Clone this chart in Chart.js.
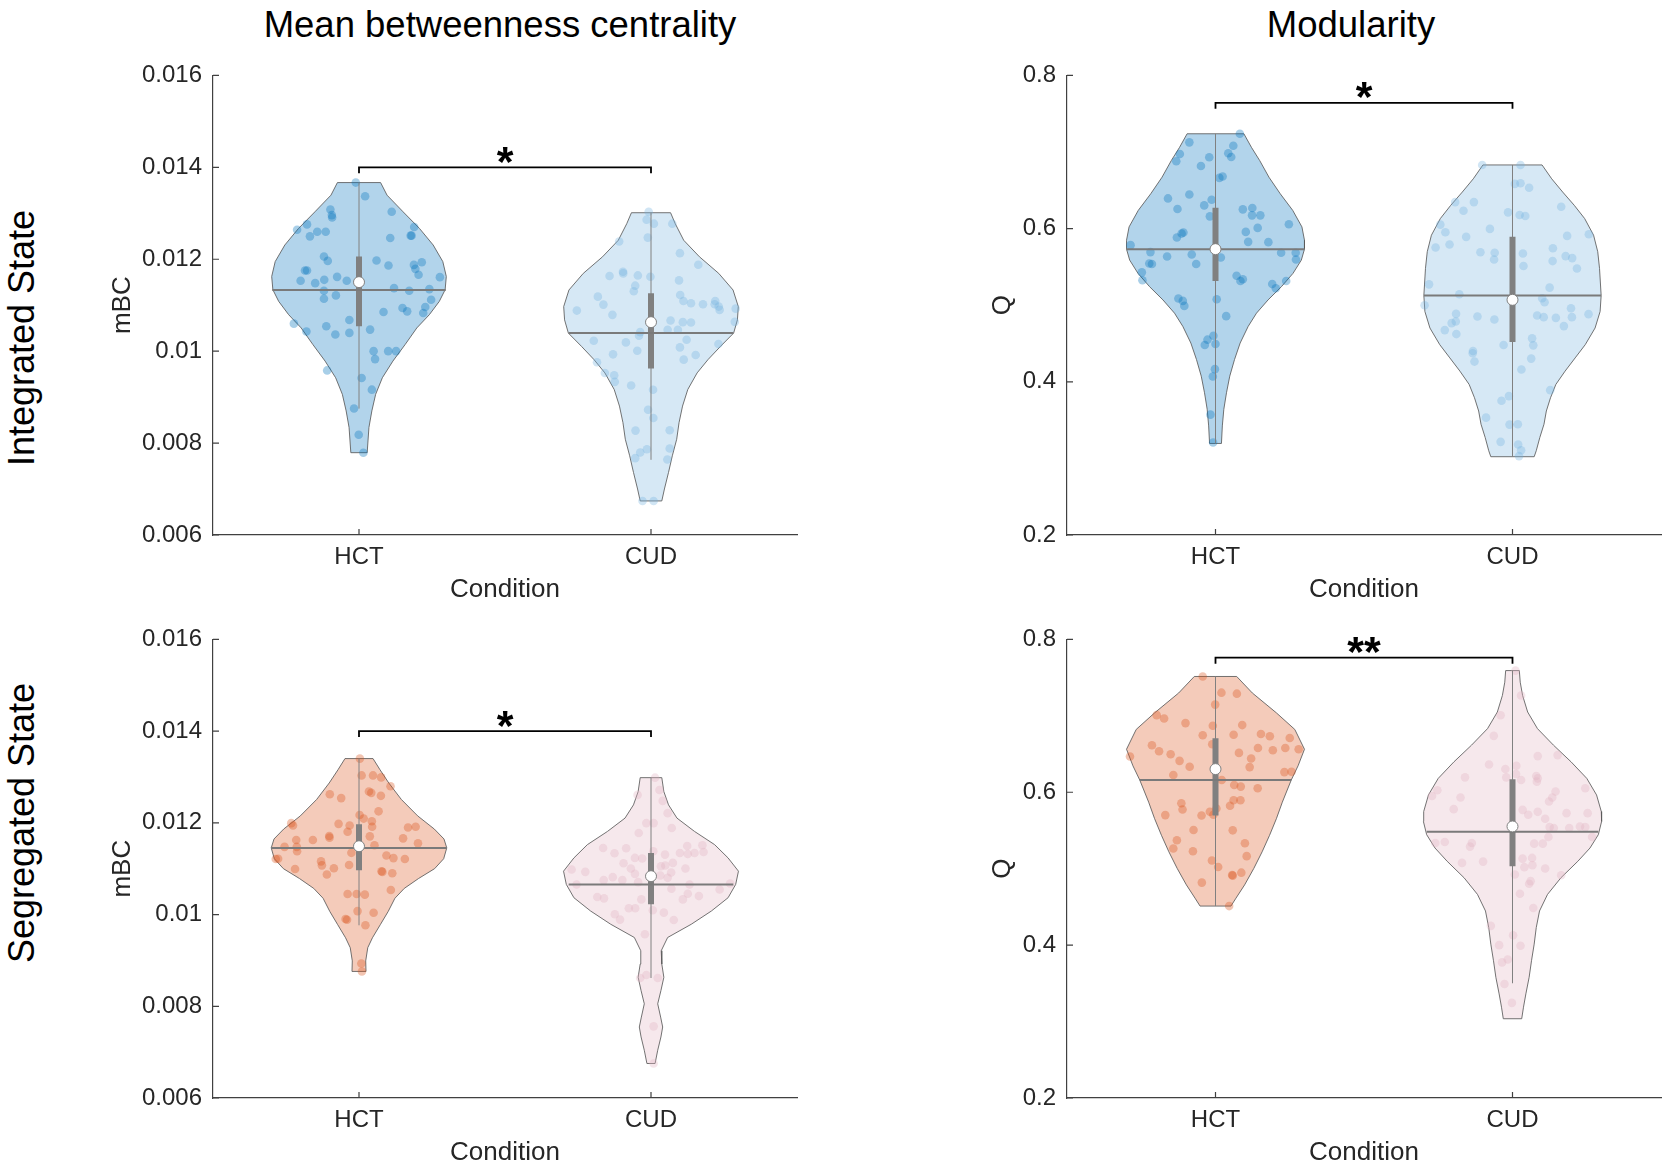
<!DOCTYPE html>
<html>
<head>
<meta charset="utf-8">
<script src="https://cdn.jsdelivr.net/npm/chart.js@4.4.0/dist/chart.umd.min.js"></script>
<style>
  html, body { margin: 0; padding: 0; background: #fff; }
  #page { position: relative; width: 1670px; height: 1172px; overflow: hidden;
          font-family: 'Liberation Sans', Arial, sans-serif; color: #000; }
  .panel { position: absolute; }
  .lbl { position: absolute; white-space: nowrap; line-height: 1; transform: translate(-50%, -50%); }
  .rot { transform: translate(-50%, -50%) rotate(-90deg); }
</style>
</head>
<body>
<div id="page">
  <div class="lbl" style="left:500px; top:24.5px; font-size:36.5px;">Mean betweenness centrality</div>
  <div class="lbl" style="left:1351px; top:24.5px; font-size:36.5px;">Modularity</div>
  <div class="lbl rot" style="left:22px; top:338px; font-size:36px;">Integrated State</div>
  <div class="lbl rot" style="left:22px; top:823px; font-size:36px;">Segregated State</div>
  <div class="panel" style="left:100px; top:50px; width:707px; height:559px;"><canvas id="intMbc"></canvas></div>
  <div class="panel" style="left:980px; top:50px; width:689px; height:559px;"><canvas id="intQ"></canvas></div>
  <div class="panel" style="left:100px; top:614px; width:707px; height:558px;"><canvas id="segMbc"></canvas></div>
  <div class="panel" style="left:980px; top:614px; width:689px; height:558px;"><canvas id="segQ"></canvas></div>
</div>

<script>
// ---- axes ----
var categories = ['HCT', 'CUD'];
var mbcTicks = [0.006, 0.008, 0.01, 0.012, 0.014, 0.016];
var qTicks = [0.2, 0.4, 0.6, 0.8];

// ---- Integrated state, mBC ----
var intMbcHctVals = [0.013668, 0.013372, 0.013032, 0.013083, 0.01296, 0.01291, 0.012643, 0.012758, 0.012498, 0.012599, 0.012599, 0.012462, 0.012513, 0.012513, 0.0127, 0.012058, 0.011964, 0.011971, 0.011863, 0.011877, 0.011935, 0.011791, 0.011661, 0.011755, 0.011755, 0.011531, 0.01148, 0.011552, 0.011617, 0.011531, 0.01161, 0.011314, 0.011141, 0.011213, 0.011372, 0.011314, 0.01135, 0.011119, 0.01096, 0.01083, 0.010939, 0.010866, 0.010852, 0.010679, 0.010599, 0.010426, 0.010542, 0.010361, 0.010397, 0.010469, 0.01, 0.01, 0.01, 0.009827, 0.009581, 0.009415, 0.009162, 0.008751, 0.008181, 0.007791];
var intMbcHctJit = [-0.011, 0.021, 0.112, -0.098, -0.093, -0.092, -0.212, -0.178, -0.168, -0.143, -0.114, 0.107, 0.177, 0.18, 0.189, -0.12, -0.107, 0.06, 0.101, 0.188, 0.215, 0.193, 0.204, -0.185, -0.178, -0.2, -0.15, -0.119, -0.075, -0.042, 0.277, -0.12, -0.12, -0.079, 0.12, 0.172, 0.241, 0.247, 0.227, 0.22, 0.149, 0.165, 0.084, -0.033, -0.223, -0.18, -0.112, -0.081, -0.033, 0.038, 0.05, 0.1, 0.127, 0.055, -0.109, 0.009, 0.044, -0.017, -0.001, 0.015];
var intMbcHctLevels = [0.013668, 0.013394, 0.013032, 0.012671, 0.01231, 0.011949, 0.011625, 0.011336, 0.011083, 0.010794, 0.010505, 0.010144, 0.009783, 0.009422, 0.009061, 0.0087, 0.008339, 0.007791];
var intMbcHctWidths = [0.074, 0.096, 0.151, 0.207, 0.254, 0.287, 0.299, 0.295, 0.275, 0.241, 0.198, 0.158, 0.116, 0.08, 0.057, 0.044, 0.034, 0.028];

var intMbcCudVals = [0.013034, 0.012861, 0.012774, 0.012774, 0.012471, 0.012385, 0.012132, 0.011879, 0.011728, 0.011692, 0.011634, 0.011648, 0.01162, 0.01154, 0.011425, 0.011302, 0.011186, 0.011013, 0.010883, 0.01079, 0.011223, 0.011093, 0.011042, 0.011021, 0.011093, 0.011021, 0.01097, 0.010898, 0.010925, 0.010638, 0.010667, 0.010631, 0.010624, 0.010414, 0.010335, 0.010465, 0.010465, 0.010227, 0.010191, 0.01001, 0.009931, 0.010248, 0.010082, 0.009916, 0.009815, 0.010155, 0.009758, 0.009526, 0.009476, 0.009332, 0.009252, 0.009159, 0.008725, 0.008545, 0.008271, 0.008278, 0.007867, 0.007794, 0.007672, 0.007881, 0.007643, 0.006741, 0.006741];
var intMbcCudJit = [-0.008, -0.015, 0.01, 0.073, -0.011, -0.109, 0.099, 0.162, -0.096, -0.095, -0.142, -0.045, -0.002, 0.096, -0.054, -0.059, -0.182, -0.163, -0.254, -0.132, 0.1, 0.111, 0.137, 0.178, 0.22, 0.218, 0.232, 0.235, 0.29, 0.287, 0.067, 0.109, 0.137, -0.037, -0.041, 0.057, 0.092, -0.196, -0.086, -0.047, -0.13, 0.122, 0.099, 0.153, 0.112, 0.231, -0.185, -0.158, -0.126, -0.124, -0.068, 0.007, -0.01, 0.008, -0.053, 0.064, -0.014, -0.037, -0.054, 0.064, 0.056, -0.029, 0.009];
var intMbcCudLevels = [0.013012, 0.012774, 0.012413, 0.012053, 0.011692, 0.011331, 0.01097, 0.010681, 0.010393, 0.010104, 0.009815, 0.009527, 0.009166, 0.008805, 0.008444, 0.008083, 0.007723, 0.007362, 0.007001, 0.006741];
var intMbcCudWidths = [0.067, 0.083, 0.112, 0.166, 0.232, 0.281, 0.299, 0.296, 0.283, 0.238, 0.195, 0.158, 0.126, 0.108, 0.096, 0.088, 0.073, 0.06, 0.046, 0.037];

var intMbcMedian = [0.011329, 0.010393];
var intMbcMean = [0.011502, 0.010631];
var intMbcQ1 = [0.010542, 0.009621];
var intMbcQ3 = [0.012058, 0.011259];
var intMbcWhiskLo = [0.008751, 0.007636];
var intMbcWhiskHi = [0.013668, 0.013012];
var intMbcMedWidth = [0.297, 0.282];

// ---- Integrated state, Q ----
var intQHctVals = [0.7238, 0.7126, 0.7082, 0.6974, 0.6879, 0.6983, 0.6935, 0.6931, 0.6818, 0.6662, 0.668, 0.6394, 0.6446, 0.6255, 0.6303, 0.6377, 0.616, 0.6251, 0.6268, 0.6173, 0.6173, 0.6056, 0.6009, 0.5957, 0.5827, 0.5823, 0.5948, 0.5935, 0.5883, 0.5784, 0.5693, 0.5636, 0.5662, 0.5537, 0.5545, 0.5537, 0.5623, 0.5684, 0.5684, 0.5597, 0.5429, 0.5325, 0.5385, 0.5316, 0.5338, 0.5277, 0.5221, 0.5316, 0.5087, 0.5056, 0.4991, 0.5078, 0.4857, 0.4602, 0.455, 0.448, 0.4494, 0.4165, 0.4069, 0.3571, 0.3208];
var intQHctJit = [0.082, -0.088, 0.06, -0.12, -0.132, 0.043, 0.053, -0.021, -0.049, 0.013, 0.024, -0.16, -0.088, -0.128, -0.038, -0.013, -0.019, 0.092, 0.124, 0.123, 0.151, 0.247, 0.142, 0.102, 0.11, 0.178, -0.108, -0.114, -0.13, -0.286, -0.219, -0.163, -0.08, -0.065, -0.223, -0.214, 0.018, 0.221, 0.27, 0.271, -0.248, -0.246, 0.071, 0.084, 0.092, 0.191, 0.203, 0.238, -0.125, -0.11, -0.105, 0.004, 0.036, -0.007, -0.027, -0.036, 0, -0.002, -0.009, -0.017, -0.008];
var intQHctLevels = [0.7238, 0.7061, 0.6887, 0.6671, 0.6455, 0.6238, 0.6022, 0.5848, 0.5732, 0.5589, 0.5416, 0.5242, 0.5069, 0.4896, 0.4723, 0.4506, 0.429, 0.4074, 0.3857, 0.3641, 0.3424, 0.3195];
var intQHctWidths = [0.0956, 0.121, 0.149, 0.18, 0.218, 0.26, 0.291, 0.2996, 0.2996, 0.289, 0.261, 0.222, 0.177, 0.138, 0.11, 0.083, 0.064, 0.048, 0.037, 0.028, 0.023, 0.02];

var intQCudVals = [0.6831, 0.6831, 0.6584, 0.6593, 0.6533, 0.6346, 0.6346, 0.6234, 0.6212, 0.6177, 0.6164, 0.6286, 0.6052, 0.5952, 0.5892, 0.5996, 0.5905, 0.5926, 0.5753, 0.5792, 0.5692, 0.5684, 0.5597, 0.5675, 0.5511, 0.5744, 0.5576, 0.5641, 0.5615, 0.548, 0.5272, 0.5143, 0.5229, 0.5091, 0.5039, 0.5, 0.4961, 0.4844, 0.4883, 0.4887, 0.4787, 0.4766, 0.4675, 0.4623, 0.4852, 0.4813, 0.4865, 0.4844, 0.4835, 0.4727, 0.4567, 0.4476, 0.448, 0.4402, 0.4372, 0.4264, 0.4303, 0.416, 0.3891, 0.3753, 0.3813, 0.3532, 0.3441, 0.3445, 0.3216, 0.3181, 0.3107, 0.303];
var intQCudJit = [-0.102, 0.027, 0.008, 0.027, 0.056, -0.193, -0.13, -0.165, -0.015, 0.024, 0.043, 0.164, -0.243, -0.226, -0.156, -0.076, 0.184, 0.257, -0.259, -0.212, -0.108, -0.06, -0.062, 0.035, 0.037, 0.136, 0.135, 0.179, 0.201, 0.217, -0.281, -0.179, 0.125, 0.1, 0.108, -0.296, 0.197, 0.2, 0.256, -0.19, -0.191, -0.205, -0.228, -0.189, -0.118, -0.061, 0.083, 0.105, 0.146, 0.173, 0.066, 0.07, -0.03, -0.133, -0.134, -0.128, 0.063, 0.03, 0.127, -0.037, -0.012, -0.089, -0.01, 0.018, -0.04, 0.019, 0.029, 0.022];
var intQCudLevels = [0.6831, 0.665, 0.6477, 0.6304, 0.6131, 0.5914, 0.5698, 0.5481, 0.5126, 0.4918, 0.4702, 0.4485, 0.4312, 0.4139, 0.3966, 0.3792, 0.3619, 0.3446, 0.3273, 0.31, 0.3022];
var intQCudWidths = [0.0995, 0.132, 0.169, 0.208, 0.243, 0.273, 0.287, 0.293, 0.2985, 0.295, 0.278, 0.245, 0.211, 0.177, 0.146, 0.128, 0.114, 0.106, 0.092, 0.08, 0.073];

var intQMedian = [0.5732, 0.5126];
var intQMean = [0.5732, 0.507];
var intQQ1 = [0.5316, 0.4519];
var intQQ3 = [0.6273, 0.5892];
var intQWhiskLo = [0.3195, 0.3022];
var intQWhiskHi = [0.7238, 0.6831];
var intQMedWidth = [0.2996, 0.2985];

// ---- Segregated state, mBC ----
var segMbcHctVals = [0.013401, 0.013034, 0.013034, 0.012991, 0.012797, 0.012625, 0.012539, 0.012682, 0.012654, 0.012589, 0.012251, 0.012172, 0.012093, 0.012036, 0.011914, 0.011993, 0.011943, 0.011978, 0.011943, 0.011806, 0.011899, 0.011914, 0.011713, 0.011677, 0.011626, 0.011626, 0.011476, 0.011476, 0.011382, 0.011705, 0.011511, 0.011662, 0.011555, 0.011217, 0.01121, 0.011346, 0.011289, 0.011231, 0.01121, 0.011159, 0.011073, 0.010994, 0.011009, 0.01108, 0.010872, 0.010944, 0.01093, 0.010901, 0.010534, 0.010448, 0.010448, 0.010434, 0.010075, 0.010039, 0.009902, 0.009888, 0.009766, 0.008932, 0.00876];
var segMbcHctJit = [0.003, 0.009, 0.048, 0.076, 0.108, -0.1, -0.061, 0.034, 0.042, 0.075, 0.067, 0.002, 0.016, 0.044, 0.045, -0.232, -0.226, -0.07, -0.032, -0.039, 0.168, 0.194, -0.102, -0.101, -0.158, -0.215, -0.255, -0.213, -0.212, 0.037, 0.053, 0.151, 0.202, -0.277, -0.285, -0.026, 0.094, 0.118, 0.157, -0.13, -0.127, -0.219, -0.086, -0.034, -0.11, 0.077, 0.08, 0.114, 0.109, -0.039, -0.008, 0.02, -0.005, 0.05, -0.046, -0.041, 0.022, 0.008, 0.01];
var segMbcHctLevels = [0.013401, 0.013157, 0.012869, 0.01251, 0.012151, 0.011864, 0.011648, 0.011454, 0.011217, 0.011001, 0.010786, 0.01057, 0.010355, 0.010068, 0.00978, 0.009493, 0.009277, 0.00899, 0.00876];
var segMbcHctWidths = [0.048, 0.072, 0.102, 0.145, 0.201, 0.258, 0.291, 0.3006, 0.29, 0.259, 0.204, 0.155, 0.123, 0.1, 0.073, 0.046, 0.03, 0.023, 0.024];

var segMbcCudVals = [0.012985, 0.012717, 0.012609, 0.012479, 0.012211, 0.011994, 0.011994, 0.011777, 0.011886, 0.011452, 0.011336, 0.011445, 0.011235, 0.011221, 0.01138, 0.011307, 0.011343, 0.011495, 0.011322, 0.011343, 0.01151, 0.011365, 0.010982, 0.010931, 0.011119, 0.011004, 0.010888, 0.011054, 0.011069, 0.011127, 0.010917, 0.011004, 0.010751, 0.010816, 0.010751, 0.010707, 0.010852, 0.010801, 0.010656, 0.010563, 0.010656, 0.010678, 0.010548, 0.010382, 0.010353, 0.010331, 0.010454, 0.010331, 0.010403, 0.010136, 0.010136, 0.010093, 0.010042, 0.010006, 0.00989, 0.009883, 0.009572, 0.008617, 0.008682, 0.008617, 0.007562, 0.006752];
var segMbcCudJit = [0.014, 0.029, -0.046, 0.04, 0.057, -0.016, 0.009, -0.042, 0.071, -0.164, -0.125, -0.085, -0.055, -0.03, 0.008, 0.048, 0.099, 0.124, 0.126, 0.149, 0.176, 0.18, -0.272, -0.225, -0.094, -0.069, -0.055, 0.034, 0.049, 0.075, 0.069, 0.118, -0.162, -0.131, -0.098, -0.044, 0.032, 0.057, 0.132, 0.07, -0.255, 0.271, 0.235, -0.184, -0.161, -0.033, 0.126, 0.109, 0.164, -0.076, -0.054, 0.006, 0.044, -0.124, -0.106, 0.078, -0.021, -0.037, -0.016, 0.023, 0.009, 0.009];
var segMbcCudLevels = [0.012985, 0.012681, 0.012392, 0.012103, 0.011813, 0.011524, 0.011235, 0.010946, 0.010657, 0.010367, 0.010078, 0.009789, 0.0095, 0.009211, 0.008921, 0.008632, 0.008343, 0.008054, 0.007764, 0.007548, 0.007331, 0.007041, 0.006752];
var segMbcCudWidths = [0.037, 0.044, 0.06, 0.089, 0.149, 0.218, 0.264, 0.2995, 0.29, 0.264, 0.207, 0.138, 0.057, 0.035, 0.037, 0.044, 0.034, 0.023, 0.033, 0.04, 0.034, 0.023, 0.014];

var segMbcMedian = [0.011454, 0.010657];
var segMbcMean = [0.01149, 0.010837];
var segMbcQ1 = [0.010966, 0.010223];
var segMbcQ3 = [0.011971, 0.011343];
var segMbcWhiskLo = [0.009766, 0.008617];
var segMbcWhiskHi = [0.013401, 0.012985];
var segMbcMedWidth = [0.3006, 0.282];

// ---- Segregated state, Q ----
var segQHctVals = [0.7515, 0.7303, 0.729, 0.7147, 0.7009, 0.6965, 0.6905, 0.687, 0.6879, 0.6745, 0.6753, 0.6762, 0.6732, 0.671, 0.6628, 0.6615, 0.6537, 0.6498, 0.6411, 0.6333, 0.6468, 0.6515, 0.658, 0.655, 0.658, 0.6563, 0.6442, 0.6329, 0.6225, 0.6264, 0.6268, 0.616, 0.6095, 0.6074, 0.6052, 0.5857, 0.5775, 0.5896, 0.5896, 0.5823, 0.5788, 0.5745, 0.5706, 0.5697, 0.5701, 0.5506, 0.5502, 0.5372, 0.5264, 0.5229, 0.5333, 0.5164, 0.5108, 0.5022, 0.4918, 0.4909, 0.4948, 0.4818, 0.4511];
var segQHctJit = [-0.043, 0.02, 0.072, -0.001, -0.198, -0.173, -0.101, -0.009, 0.09, -0.043, 0.061, 0.153, 0.183, 0.25, -0.011, -0.214, -0.19, -0.151, -0.121, -0.087, -0.288, 0.079, 0.143, 0.193, 0.235, 0.28, 0.12, 0.115, -0.142, 0.232, 0.256, 0.021, 0.063, 0.085, 0.142, -0.115, -0.111, 0.061, 0.084, 0.049, 0.003, -0.019, -0.007, -0.047, -0.169, -0.074, 0.058, -0.13, -0.142, -0.076, 0.099, 0.105, -0.012, 0.009, 0.056, 0.058, 0.087, -0.046, 0.046];
var segQHctLevels = [0.7515, 0.7299, 0.7039, 0.6822, 0.6563, 0.6346, 0.616, 0.587, 0.5654, 0.5437, 0.5221, 0.5004, 0.4788, 0.4615, 0.4511];
var segQHctWidths = [0.0714, 0.124, 0.205, 0.267, 0.2996, 0.278, 0.255, 0.225, 0.205, 0.182, 0.157, 0.129, 0.098, 0.069, 0.052];

var segQCudVals = [0.7592, 0.7267, 0.7007, 0.6738, 0.6486, 0.6473, 0.6364, 0.6304, 0.6347, 0.6239, 0.6195, 0.6195, 0.6161, 0.6213, 0.6182, 0.6139, 0.6026, 0.5952, 0.5931, 0.5779, 0.6009, 0.5931, 0.5879, 0.6052, 0.577, 0.5705, 0.5744, 0.5653, 0.5727, 0.5727, 0.5544, 0.5532, 0.5532, 0.5553, 0.5544, 0.5414, 0.5414, 0.5328, 0.5328, 0.5336, 0.5349, 0.5336, 0.5289, 0.5076, 0.5093, 0.5132, 0.5141, 0.502, 0.5046, 0.5002, 0.4924, 0.4915, 0.4837, 0.4803, 0.4672, 0.4486, 0.4252, 0.413, 0.4, 0.3991, 0.3813, 0.3774, 0.3492, 0.3245];
var segQCudJit = [0.01, 0.029, -0.04, -0.063, 0.152, 0.085, -0.079, -0.024, 0.013, 0.012, -0.021, -0.16, 0.029, 0.08, 0.085, 0.082, -0.253, -0.271, -0.175, -0.198, 0.145, 0.134, 0.123, 0.245, 0.034, 0.053, 0.085, 0.11, 0.182, 0.253, 0.125, 0.139, 0.191, 0.227, 0.245, 0.268, 0.121, 0.102, 0.073, -0.26, -0.228, -0.137, -0.143, -0.17, -0.099, 0.034, 0.066, 0.04, 0.067, 0.11, 0.008, 0.164, 0.061, 0.056, 0.025, 0.07, -0.073, 0.002, -0.045, 0.027, -0.016, -0.035, -0.027, -0.002];
var segQCudLevels = [0.7592, 0.744, 0.7267, 0.705, 0.6833, 0.6616, 0.6399, 0.6182, 0.5965, 0.5748, 0.5618, 0.5445, 0.5271, 0.5097, 0.4881, 0.4664, 0.4447, 0.423, 0.4013, 0.3796, 0.3579, 0.3362, 0.3188, 0.3037];
var segQCudWidths = [0.023, 0.026, 0.034, 0.051, 0.084, 0.138, 0.197, 0.25, 0.283, 0.299, 0.3, 0.289, 0.261, 0.22, 0.163, 0.118, 0.091, 0.08, 0.073, 0.064, 0.056, 0.045, 0.037, 0.031];

var segQMedian = [0.616, 0.5484];
var segQMean = [0.6303, 0.5553];
var segQQ1 = [0.5697, 0.5033];
var segQQ3 = [0.6706, 0.6169];
var segQWhiskLo = [0.4511, 0.3501];
var segQWhiskHi = [0.7515, 0.7592];
var segQMedWidth = [0.255, 0.289];

// significance brackets: [tick end, bar level] per panel
var intMbcBracket = [0.01387, 0.014];
var intQBracket = [0.7564, 0.7642];
var segMbcBracket = [0.01387, 0.014];
var segQBracket = [0.7683, 0.7761];

var FONT = "'Liberation Sans', Arial, sans-serif";
var TXT = '#262626';
var AXIS = '#404040';
var GRAY = '#808080';

// inward tick marks + significance stars
var extras = {
  id: 'extras',
  afterDatasetsDraw: function(chart, args, opts) {
    var ctx = chart.ctx, x = chart.scales.x, y = chart.scales.y;
    ctx.save();
    ctx.strokeStyle = AXIS;
    ctx.lineWidth = 1.2;
    ctx.beginPath();
    x.ticks.forEach(function(t) {
      var px = x.getPixelForValue(t.value);
      ctx.moveTo(px, y.bottom); ctx.lineTo(px, y.bottom - 6);
    });
    y.ticks.forEach(function(t) {
      var py = y.getPixelForValue(t.value);
      ctx.moveTo(x.left, py); ctx.lineTo(x.left + 6, py);
    });
    ctx.stroke();
    ctx.fillStyle = '#000';
    ctx.font = 'bold 43px ' + FONT;
    ctx.textAlign = 'center';
    ctx.textBaseline = 'alphabetic';
    ctx.fillText(opts.star, x.getPixelForValue(1.5), y.getPixelForValue(opts.level) + 8.5);
    ctx.restore();
  }
};

function violinShape(levels, widths, c) {
  var right = levels.map(function(v, i) { return {x: c + widths[i], y: v}; });
  var left = levels.map(function(v, i) { return {x: c - widths[i], y: v}; }).reverse();
  return right.concat(left, [right[0]]);
}

function dots(vals, jit, c) {
  return vals.map(function(v, i) { return {x: c + jit[i], y: v}; });
}

function drawPanel(id, p) {
  var datasets = [];
  p.groups.forEach(function(g, k) {
    var c = k + 1;
    datasets.push({ type: 'line', data: violinShape(g.levels, g.widths, c), order: 6,
      fill: 'shape', backgroundColor: 'rgba(' + g.rgb + ',0.3)', borderColor: 'rgba(90,90,90,0.85)',
      borderWidth: 1, pointRadius: 0, tension: 0 });
    datasets.push({ type: 'scatter', data: dots(g.vals, g.jit, c), order: 5,
      backgroundColor: 'rgba(' + g.rgb + ',0.34)', borderWidth: 0, pointRadius: 4.3 });
    datasets.push({ type: 'line', data: [{x: c, y: p.whiskLo[k]}, {x: c, y: p.whiskHi[k]}], order: 3,
      borderColor: GRAY, borderWidth: 1, pointRadius: 0 });
    datasets.push({ type: 'line', data: [{x: c, y: p.q1[k]}, {x: c, y: p.q3[k]}], order: 2,
      borderColor: GRAY, borderWidth: 6, borderCapStyle: 'butt', pointRadius: 0 });
    datasets.push({ type: 'line', data: [{x: c - p.medW[k], y: p.median[k]}, {x: c + p.medW[k], y: p.median[k]}], order: 1,
      borderColor: '#7a7a7a', borderWidth: 2, pointRadius: 0 });
    datasets.push({ type: 'scatter', data: [{x: c, y: p.mean[k]}], order: 0,
      backgroundColor: '#fff', borderColor: GRAY, borderWidth: 1, pointRadius: 5.5 });
  });
  var b = p.bracket;
  datasets.push({ type: 'line', data: [{x: 1, y: b[0]}, {x: 1, y: b[1]}, {x: 2, y: b[1]}, {x: 2, y: b[0]}], order: 4,
    borderColor: '#000', borderWidth: 1.8, pointRadius: 0, clip: false });

  new Chart(document.getElementById(id), {
    type: 'scatter',
    data: { datasets: datasets },
    plugins: [extras],
    options: {
      responsive: true, maintainAspectRatio: false, animation: false,
      layout: { padding: { top: 23, right: p.padRight, left: 0, bottom: 0 } },
      plugins: { legend: { display: false }, tooltip: { enabled: false }, extras: { star: p.star, level: b[1] } },
      scales: {
        x: {
          type: 'linear', min: 0.5, max: 2.5,
          afterBuildTicks: function(s) { s.ticks = categories.map(function(c, i) { return {value: i + 1}; }); },
          afterFit: function(s) { s.height = 74; },
          grid: { display: false, drawTicks: false },
          border: { display: true, color: AXIS, width: 1.2 },
          ticks: { autoSkip: false, maxRotation: 0, padding: 8, color: TXT, font: { family: FONT, size: 24 },
                   callback: function(v) { return categories[Math.round(v) - 1]; } },
          title: { display: true, text: 'Condition', color: TXT, font: { family: FONT, size: 26 }, padding: { top: 0, bottom: 4 } }
        },
        y: {
          type: 'linear', min: p.ticks[0], max: p.ticks[p.ticks.length - 1],
          afterBuildTicks: function(s) { s.ticks = p.ticks.map(function(v) { return {value: v}; }); },
          afterFit: function(s) { s.width = p.yWidth; },
          grid: { display: false, drawTicks: false },
          border: { display: true, color: AXIS, width: 1.2 },
          ticks: { autoSkip: false, padding: 11, color: TXT, font: { family: FONT, size: 24 },
                   callback: function(v) { return String(v); } },
          title: { display: true, text: p.yLabel, color: TXT, font: { family: FONT, size: 26 }, padding: { top: 7, bottom: 0 } }
        }
      }
    }
  });
}

var blueHct = '0,114,189', blueCud = '118,178,222';
var redHct = '217,83,25', redCud = '225,178,192';

drawPanel('intMbc', {
  ticks: mbcTicks, yLabel: 'mBC', yWidth: 113, padRight: 10, star: '*', bracket: intMbcBracket,
  groups: [
    {vals: intMbcHctVals, jit: intMbcHctJit, levels: intMbcHctLevels, widths: intMbcHctWidths, rgb: blueHct},
    {vals: intMbcCudVals, jit: intMbcCudJit, levels: intMbcCudLevels, widths: intMbcCudWidths, rgb: blueCud}
  ],
  median: intMbcMedian, mean: intMbcMean, q1: intMbcQ1, q3: intMbcQ3,
  whiskLo: intMbcWhiskLo, whiskHi: intMbcWhiskHi, medW: intMbcMedWidth
});

drawPanel('intQ', {
  ticks: qTicks, yLabel: 'Q', yWidth: 87, padRight: 8, star: '*', bracket: intQBracket,
  groups: [
    {vals: intQHctVals, jit: intQHctJit, levels: intQHctLevels, widths: intQHctWidths, rgb: blueHct},
    {vals: intQCudVals, jit: intQCudJit, levels: intQCudLevels, widths: intQCudWidths, rgb: blueCud}
  ],
  median: intQMedian, mean: intQMean, q1: intQQ1, q3: intQQ3,
  whiskLo: intQWhiskLo, whiskHi: intQWhiskHi, medW: intQMedWidth
});

drawPanel('segMbc', {
  ticks: mbcTicks, yLabel: 'mBC', yWidth: 113, padRight: 10, star: '*', bracket: segMbcBracket,
  groups: [
    {vals: segMbcHctVals, jit: segMbcHctJit, levels: segMbcHctLevels, widths: segMbcHctWidths, rgb: redHct},
    {vals: segMbcCudVals, jit: segMbcCudJit, levels: segMbcCudLevels, widths: segMbcCudWidths, rgb: redCud}
  ],
  median: segMbcMedian, mean: segMbcMean, q1: segMbcQ1, q3: segMbcQ3,
  whiskLo: segMbcWhiskLo, whiskHi: segMbcWhiskHi, medW: segMbcMedWidth
});

drawPanel('segQ', {
  ticks: qTicks, yLabel: 'Q', yWidth: 87, padRight: 8, star: '**', bracket: segQBracket,
  groups: [
    {vals: segQHctVals, jit: segQHctJit, levels: segQHctLevels, widths: segQHctWidths, rgb: redHct},
    {vals: segQCudVals, jit: segQCudJit, levels: segQCudLevels, widths: segQCudWidths, rgb: redCud}
  ],
  median: segQMedian, mean: segQMean, q1: segQQ1, q3: segQQ3,
  whiskLo: segQWhiskLo, whiskHi: segQWhiskHi, medW: segQMedWidth
});
</script>
</body>
</html>
